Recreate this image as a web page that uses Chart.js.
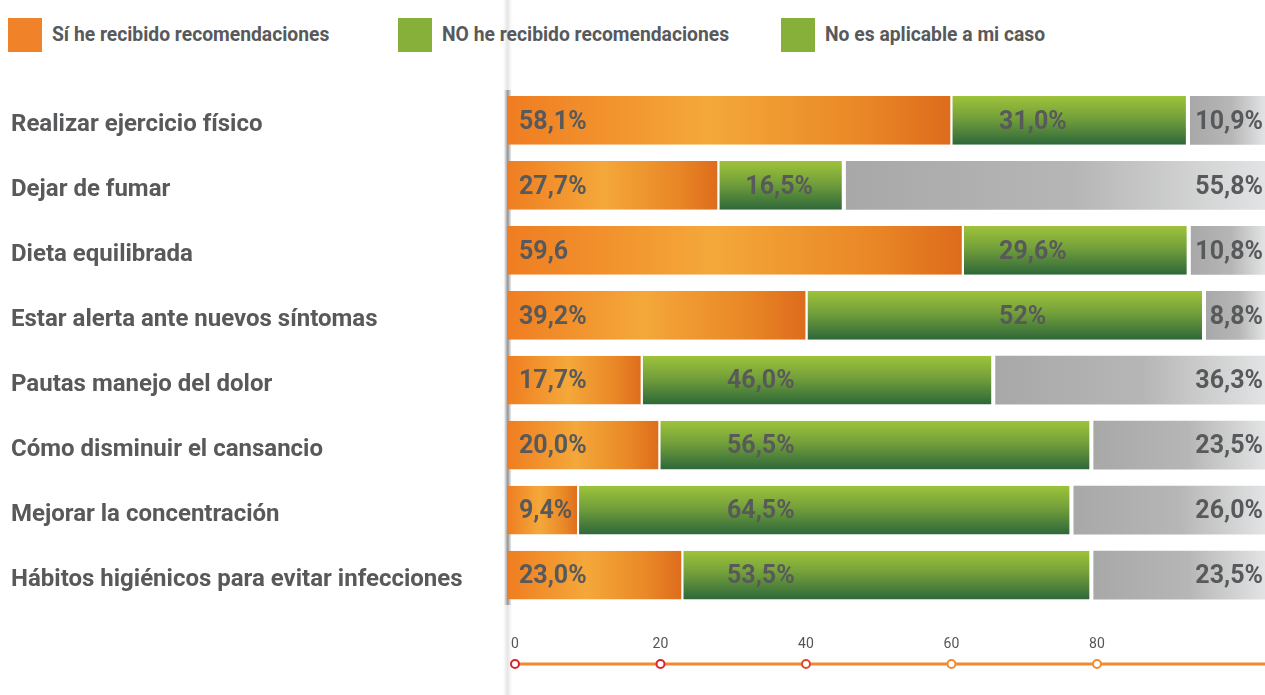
<!DOCTYPE html>
<html>
<head>
<meta charset="utf-8">
<script src="https://cdn.jsdelivr.net/npm/chart.js@4"></script>
<style>
  html, body { margin: 0; padding: 0; background: #fff; }
  #wrap { position: relative; width: 1265px; height: 695px; overflow: hidden; font-family: Roboto, sans-serif; }
  .lg { position: absolute; top: 18px; height: 34px; display: flex; align-items: center; }
  .lg i { display: block; width: 34px; height: 34px; margin-right: 10px; }
  .lg span { font-weight: 700; font-size: 19.3px; color: #58595b; white-space: nowrap; position: relative; top: -1px; }
  .shade { position: absolute; }
  canvas { position: absolute; left: 0; }
</style>
</head>
<body>
<div id="wrap">
  <div class="shade" style="left:503px;top:0;width:9px;height:695px;background:linear-gradient(to right,rgba(0,0,0,0),rgba(0,0,0,0.10) 50%,rgba(0,0,0,0));"></div>
  <div class="shade" style="left:504px;top:90px;width:7px;height:515px;background:linear-gradient(to right,rgba(0,0,0,0),rgba(0,0,0,0.35) 55%,rgba(0,0,0,0.05));"></div>

  <div class="lg" style="left:8px"><i style="background:#f0822a"></i><span>Sí he recibido recomendaciones</span></div>
  <div class="lg" style="left:398px"><i style="background:#86b03a"></i><span>NO he recibido recomendaciones</span></div>
  <div class="lg" style="left:781px"><i style="background:#86b03a"></i><span>No es aplicable a mi caso</span></div>

  <canvas id="barChart" width="1265" height="625" style="top:0"></canvas>
  <canvas id="axisChart" width="1265" height="75" style="top:620px"></canvas>
</div>

<script>
// --- datos ---
const categories = [
    'Realizar ejercicio físico',
    'Dejar de fumar',
    'Dieta equilibrada',
    'Estar alerta ante nuevos síntomas',
    'Pautas manejo del dolor',
    'Cómo disminuir el cansancio',
    'Mejorar la concentración',
    'Hábitos higiénicos para evitar infecciones'
];
const seriesNames = ['Sí he recibido recomendaciones', 'NO he recibido recomendaciones', 'No es aplicable a mi caso'];

const siValues = [58.1, 27.7, 59.6, 39.2, 17.7, 20.0, 9.4, 23.0];
const noValues = [31.0, 16.5, 29.6, 52.0, 46.0, 56.5, 64.5, 53.5];
const naValues = [10.9, 55.8, 10.8, 8.8, 36.3, 23.5, 26.0, 23.5];

// textos tal como aparecen en la imagen
const siText = ['58,1%', '27,7%', '59,6', '39,2%', '17,7%', '20,0%', '9,4%', '23,0%'];
const noText = ['31,0%', '16,5%', '29,6%', '52%', '46,0%', '56,5%', '64,5%', '53,5%'];
const naText = ['10,9%', '55,8%', '10,8%', '8,8%', '36,3%', '23,5%', '26,0%', '23,5%'];

// eje inferior (decorativo)
const axisTicks = [0, 20, 40, 60, 80];

const TEXT_COLOR = '#58595b';

// ---------------------------------------------------------
// gradientes por barra
// ---------------------------------------------------------
function barBounds(ctx) {
    const chart = ctx.chart;
    const x = chart.scales.x, y = chart.scales.y;
    let start = 0;
    for (let d = 0; d < ctx.datasetIndex; d++) start += chart.data.datasets[d].data[ctx.dataIndex];
    const end = start + chart.data.datasets[ctx.datasetIndex].data[ctx.dataIndex];
    const yc = y.getPixelForValue(ctx.dataIndex);
    return { x0: x.getPixelForValue(start), x1: x.getPixelForValue(end), y0: yc - 25, y1: yc + 25 };
}

function orangeFill(ctx) {
    if (!ctx.chart.chartArea) return '#f0822a';
    const b = barBounds(ctx);
    const g = ctx.chart.ctx.createLinearGradient(b.x0, 0, b.x1, 0);
    g.addColorStop(0, '#ef7d21');
    g.addColorStop(0.45, '#f4a83a');
    g.addColorStop(0.8, '#e98726');
    g.addColorStop(1, '#dd6b1c');
    return g;
}

function greenFill(ctx) {
    if (!ctx.chart.chartArea) return '#86b03a';
    const b = barBounds(ctx);
    const g = ctx.chart.ctx.createLinearGradient(0, b.y0, 0, b.y1);
    g.addColorStop(0, '#9fc43a');
    g.addColorStop(0.45, '#74a03a');
    g.addColorStop(1, '#2c663a');
    return g;
}

function grayFill(ctx) {
    if (!ctx.chart.chartArea) return '#aaaaaa';
    const b = barBounds(ctx);
    const g = ctx.chart.ctx.createLinearGradient(b.x0, 0, Math.min(b.x1, ctx.chart.chartArea.right), 0);
    g.addColorStop(0, '#a8a8a8');
    g.addColorStop(0.55, '#b6b6b6');
    g.addColorStop(1, '#e2e3e4');
    return g;
}

// ---------------------------------------------------------
// etiquetas de valor dentro de las barras
// ---------------------------------------------------------
const valueLabels = {
    id: 'valueLabels',
    afterDatasetsDraw(chart, args, opts) {
        const c = chart.ctx;
        const texts = [siText, noText, naText];
        c.save();
        c.font = 'bold 25px Roboto, sans-serif';
        c.fillStyle = TEXT_COLOR;
        c.textBaseline = 'middle';
        chart.data.datasets.forEach((ds, d) => {
            chart.getDatasetMeta(d).data.forEach((bar, i) => {
                const p = bar.getProps(['x', 'y', 'base'], true);
                const y = p.y + 2;
                if (d === 0) {
                    c.textAlign = 'left';
                    c.fillText(texts[d][i], p.base + 12, y);
                } else if (d === 1) {
                    c.textAlign = 'left';
                    c.fillText(texts[d][i], chart.scales.x.getPixelForValue(opts.greenAt[i]), y);
                } else {
                    c.textAlign = 'right';
                    c.fillText(texts[d][i], Math.min(p.x, chart.chartArea.right) - 2, y);
                }
            });
        });
        c.restore();
    }
};

// ---------------------------------------------------------
// gráfico principal
// ---------------------------------------------------------
const mainChart = new Chart(document.getElementById('barChart').getContext('2d'), {
    type: 'bar',
    data: {
        labels: categories,
        datasets: [
            { label: seriesNames[0], data: siValues, backgroundColor: orangeFill, borderColor: '#fff', borderWidth: { right: 2 } },
            { label: seriesNames[1], data: noValues, backgroundColor: greenFill, borderColor: '#fff', borderWidth: { right: 4 } },
            { label: seriesNames[2], data: naValues, backgroundColor: grayFill, borderWidth: 0 }
        ]
    },
    options: {
        indexAxis: 'y',
        responsive: false,
        animation: false,
        layout: { padding: { top: 88, bottom: 17.5, left: 11, right: 0 } },
        datasets: {
            bar: { barPercentage: 1, categoryPercentage: 0.75, borderSkipped: false, inflateAmount: 0 }
        },
        scales: {
            // la imagen original recorta la parte gris por la derecha
            x: { stacked: true, display: false, min: 0, max: 98.9 },
            y: {
                stacked: true,
                grid: { display: false },
                border: { display: false },
                ticks: {
                    crossAlign: 'far',
                    padding: 0,
                    labelOffset: 5,
                    color: TEXT_COLOR,
                    font: { family: 'Roboto', weight: 'bold', size: 24 }
                },
                afterFit(scale) { scale.width = 496; }
            }
        },
        plugins: {
            legend: { display: false },
            tooltip: { enabled: false },
            valueLabels: { greenAt: [64.2, 31.1, 64.2, 64.2, 28.7, 28.7, 28.7, 28.7] }
        }
    },
    plugins: [valueLabels]
});

// ---------------------------------------------------------
// eje inferior con marcadores
// ---------------------------------------------------------
const AXIS_MIN = -1.1, AXIS_MAX = 103.1;
const axisPoints = axisTicks.map(v => ({ x: v, y: 0 })).concat([{ x: AXIS_MAX, y: 0 }]);

const axisChart = new Chart(document.getElementById('axisChart').getContext('2d'), {
    type: 'line',
    data: {
        datasets: [{
            data: axisPoints,
            borderColor: '#f28a30',
            borderWidth: 3,
            pointRadius: [4, 4, 4, 4, 4, 0],
            pointBorderWidth: 2,
            pointBackgroundColor: '#fff',
            pointBorderColor: ['#d7262e', '#d7262e', '#e0482e', '#f28a30', '#f28a30', '#f28a30'],
            clip: false
        }]
    },
    options: {
        responsive: false,
        animation: false,
        layout: { autoPadding: false, padding: { top: 13, bottom: 20, left: 507, right: 0 } },
        scales: {
            x: {
                type: 'linear',
                position: 'top',
                min: AXIS_MIN,
                max: AXIS_MAX,
                grid: { display: false, drawTicks: false },
                border: { display: false },
                afterBuildTicks(scale) { scale.ticks = axisTicks.map(v => ({ value: v })); },
                afterFit(scale) { scale.height = 20; },
                ticks: { color: '#555', font: { family: 'Roboto', size: 14 }, padding: 0, maxRotation: 0 }
            },
            y: { display: false, min: -1, max: 1 }
        },
        plugins: { legend: { display: false }, tooltip: { enabled: false } }
    }
});
</script>
</body>
</html>
